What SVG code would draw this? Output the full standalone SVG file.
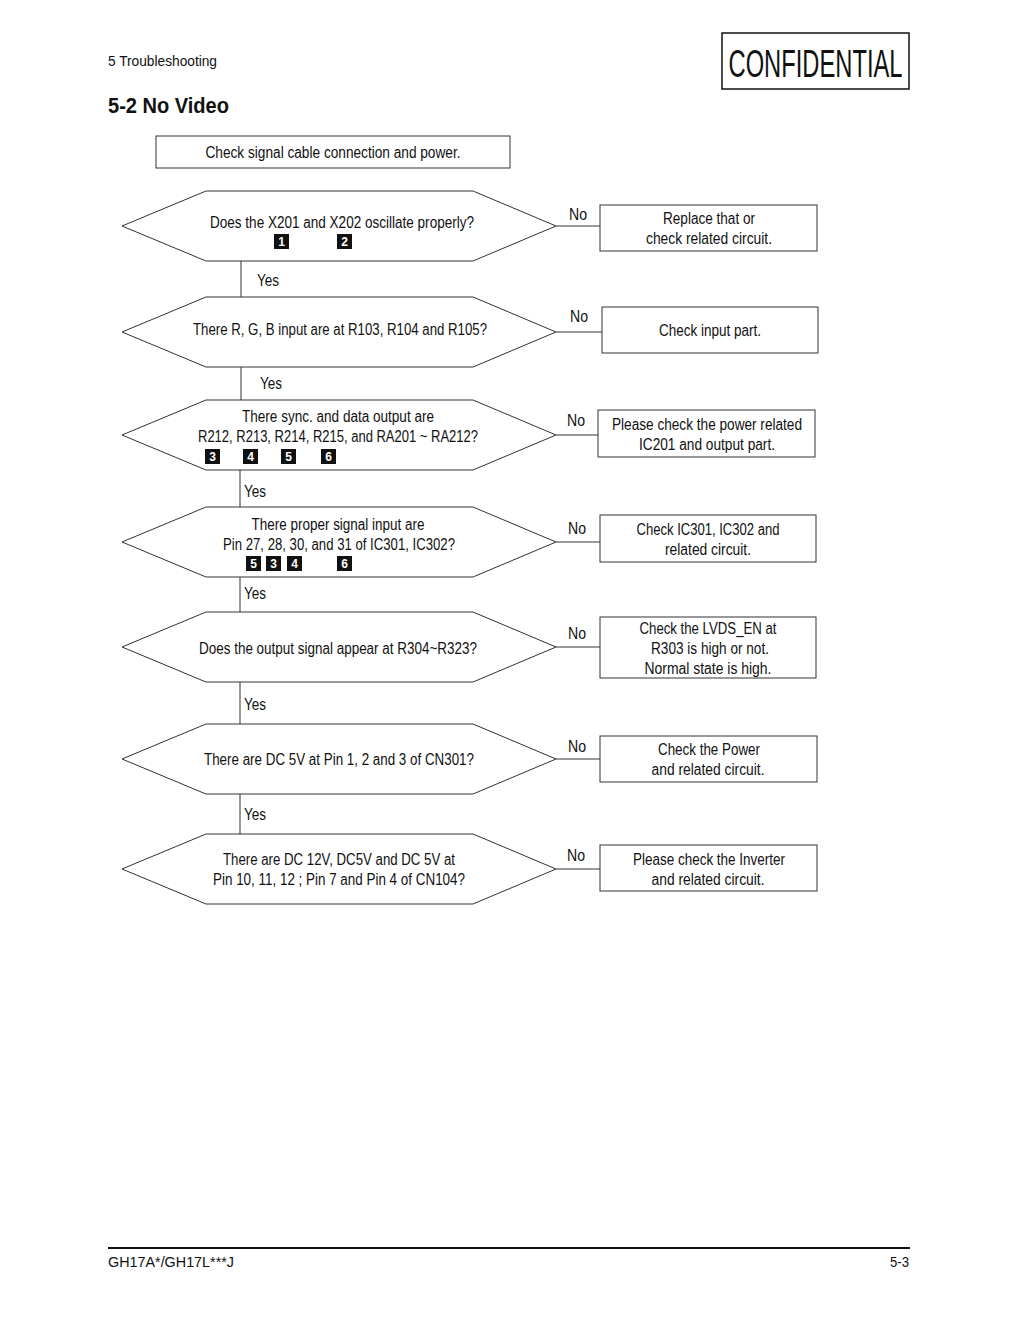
<svg xmlns="http://www.w3.org/2000/svg" width="1020" height="1322" viewBox="0 0 1020 1322">
<style>
text{font-family:"Liberation Sans",Arial,sans-serif;fill:#111}
.t{font-size:16px;text-anchor:middle}
.l{font-size:16px}
.s{fill:#fff;stroke:#333;stroke-width:1}
.c{stroke:#333;stroke-width:1;fill:none}
.b{fill:#111}
.bt{font-size:12px;font-weight:bold;fill:#fff;text-anchor:middle}
</style>
<rect width="1020" height="1322" fill="#fff"/>
<text x="108" y="66" style="font-size:15px" textLength="109" lengthAdjust="spacingAndGlyphs">5 Troubleshooting</text>
<rect x="722" y="33" width="187" height="56" fill="none" stroke="#111" stroke-width="1.5"/>
<text x="815.5" y="77" style="font-size:39px;text-anchor:middle" textLength="174" lengthAdjust="spacingAndGlyphs">CONFIDENTIAL</text>
<text x="108" y="113" style="font-size:22px;font-weight:bold" textLength="121" lengthAdjust="spacingAndGlyphs">5-2 No Video</text>

<g id="connectors">
<line class="c" x1="241" y1="261" x2="241" y2="297"/>
<line class="c" x1="241" y1="367" x2="241" y2="400"/>
<line class="c" x1="240" y1="470" x2="240" y2="507"/>
<line class="c" x1="240" y1="577" x2="240" y2="612"/>
<line class="c" x1="240" y1="682" x2="240" y2="724"/>
<line class="c" x1="240" y1="794" x2="240" y2="834"/>
<line class="c" x1="556" y1="226" x2="600" y2="226"/>
<line class="c" x1="556" y1="332" x2="602" y2="332"/>
<line class="c" x1="556" y1="435" x2="598" y2="435"/>
<line class="c" x1="556" y1="542" x2="600" y2="542"/>
<line class="c" x1="556" y1="647" x2="600" y2="647"/>
<line class="c" x1="556" y1="759" x2="600" y2="759"/>
<line class="c" x1="556" y1="869" x2="600" y2="869"/>
<text class="l" x="257" y="286" textLength="22" lengthAdjust="spacingAndGlyphs">Yes</text>
<text class="l" x="260" y="389" textLength="22" lengthAdjust="spacingAndGlyphs">Yes</text>
<text class="l" x="244" y="497" textLength="22" lengthAdjust="spacingAndGlyphs">Yes</text>
<text class="l" x="244" y="599" textLength="22" lengthAdjust="spacingAndGlyphs">Yes</text>
<text class="l" x="244" y="710" textLength="22" lengthAdjust="spacingAndGlyphs">Yes</text>
<text class="l" x="244" y="820" textLength="22" lengthAdjust="spacingAndGlyphs">Yes</text>
<text class="l" x="569" y="220" textLength="18" lengthAdjust="spacingAndGlyphs">No</text>
<text class="l" x="570" y="322" textLength="18" lengthAdjust="spacingAndGlyphs">No</text>
<text class="l" x="567" y="426" textLength="18" lengthAdjust="spacingAndGlyphs">No</text>
<text class="l" x="568" y="534" textLength="18" lengthAdjust="spacingAndGlyphs">No</text>
<text class="l" x="568" y="639" textLength="18" lengthAdjust="spacingAndGlyphs">No</text>
<text class="l" x="568" y="752" textLength="18" lengthAdjust="spacingAndGlyphs">No</text>
<text class="l" x="567" y="861" textLength="18" lengthAdjust="spacingAndGlyphs">No</text>
</g>

<g id="start">
<rect class="s" x="156" y="136" width="354" height="32"/>
<text class="t" x="333" y="158" textLength="255" lengthAdjust="spacingAndGlyphs">Check signal cable connection and power.</text>
</g>

<g id="d1">
<polygon class="s" points="122,226 206,191 473,191 556,226 473,261 206,261"/>
<text class="t" x="342" y="228" textLength="264" lengthAdjust="spacingAndGlyphs">Does the X201 and X202 oscillate properly?</text>
<rect class="b" x="274" y="234" width="15" height="15"/><text class="bt" x="281.5" y="246">1</text>
<rect class="b" x="337" y="234" width="15" height="15"/><text class="bt" x="344.5" y="246">2</text>
</g>
<g id="d2">
<polygon class="s" points="122,332 206,297 473,297 556,332 473,367 206,367"/>
<text class="t" x="340" y="335" textLength="294" lengthAdjust="spacingAndGlyphs">There R, G, B input are at R103, R104 and R105?</text>
</g>
<g id="d3">
<polygon class="s" points="122,435 206,400 473,400 556,435 473,470 206,470"/>
<text class="t" x="338" y="422" textLength="192" lengthAdjust="spacingAndGlyphs">There sync. and data output are</text>
<text class="t" x="338" y="442" textLength="280" lengthAdjust="spacingAndGlyphs">R212, R213, R214, R215, and RA201 ~ RA212?</text>
<rect class="b" x="205" y="449" width="15" height="15"/><text class="bt" x="212.5" y="461">3</text>
<rect class="b" x="243" y="449" width="15" height="15"/><text class="bt" x="250.5" y="461">4</text>
<rect class="b" x="281" y="449" width="15" height="15"/><text class="bt" x="288.5" y="461">5</text>
<rect class="b" x="321" y="449" width="15" height="15"/><text class="bt" x="328.5" y="461">6</text>
</g>
<g id="d4">
<polygon class="s" points="122,542 206,507 473,507 556,542 473,577 206,577"/>
<text class="t" x="338" y="530" textLength="173" lengthAdjust="spacingAndGlyphs">There proper signal input are</text>
<text class="t" x="339" y="550" textLength="232" lengthAdjust="spacingAndGlyphs">Pin 27, 28, 30, and 31 of IC301, IC302?</text>
<rect class="b" x="246" y="556" width="15" height="15"/><text class="bt" x="253.5" y="568">5</text>
<rect class="b" x="266" y="556" width="15" height="15"/><text class="bt" x="273.5" y="568">3</text>
<rect class="b" x="287" y="556" width="15" height="15"/><text class="bt" x="294.5" y="568">4</text>
<rect class="b" x="337" y="556" width="15" height="15"/><text class="bt" x="344.5" y="568">6</text>
</g>
<g id="d5">
<polygon class="s" points="122,647 206,612 473,612 556,647 473,682 206,682"/>
<text class="t" x="338" y="654" textLength="278" lengthAdjust="spacingAndGlyphs">Does the output signal appear at R304~R323?</text>
</g>
<g id="d6">
<polygon class="s" points="122,759 206,724 473,724 556,759 473,794 206,794"/>
<text class="t" x="339" y="765" textLength="270" lengthAdjust="spacingAndGlyphs">There are DC 5V at Pin 1, 2 and 3 of CN301?</text>
</g>
<g id="d7">
<polygon class="s" points="122,869 206,834 473,834 556,869 473,904 206,904"/>
<text class="t" x="339" y="865" textLength="232" lengthAdjust="spacingAndGlyphs">There are DC 12V, DC5V and DC 5V at</text>
<text class="t" x="339" y="885" textLength="252" lengthAdjust="spacingAndGlyphs">Pin 10, 11, 12 ; Pin 7 and Pin 4 of CN104?</text>
</g>

<g id="b1">
<rect class="s" x="600" y="205" width="217" height="46"/>
<text class="t" x="709" y="224" textLength="92" lengthAdjust="spacingAndGlyphs">Replace that or</text>
<text class="t" x="709" y="244" textLength="126" lengthAdjust="spacingAndGlyphs">check related circuit.</text>
</g>
<g id="b2">
<rect class="s" x="602" y="307" width="216" height="46"/>
<text class="t" x="710" y="336" textLength="102" lengthAdjust="spacingAndGlyphs">Check input part.</text>
</g>
<g id="b3">
<rect class="s" x="598" y="410" width="217" height="47"/>
<text class="t" x="707" y="430" textLength="190" lengthAdjust="spacingAndGlyphs">Please check the power related</text>
<text class="t" x="707" y="450" textLength="136" lengthAdjust="spacingAndGlyphs">IC201 and output part.</text>
</g>
<g id="b4">
<rect class="s" x="600" y="515" width="216" height="47"/>
<text class="t" x="708" y="535" textLength="143" lengthAdjust="spacingAndGlyphs">Check IC301, IC302 and</text>
<text class="t" x="708" y="555" textLength="86" lengthAdjust="spacingAndGlyphs">related circuit.</text>
</g>
<g id="b5">
<rect class="s" x="600" y="617" width="216" height="61"/>
<text class="t" x="708" y="634" textLength="137" lengthAdjust="spacingAndGlyphs">Check the LVDS_EN at</text>
<text class="t" x="710" y="654" textLength="118" lengthAdjust="spacingAndGlyphs">R303 is high or not.</text>
<text class="t" x="708" y="674" textLength="127" lengthAdjust="spacingAndGlyphs">Normal state is high.</text>
</g>
<g id="b6">
<rect class="s" x="600" y="736" width="217" height="46"/>
<text class="t" x="709" y="755" textLength="102" lengthAdjust="spacingAndGlyphs">Check the Power</text>
<text class="t" x="708" y="775" textLength="113" lengthAdjust="spacingAndGlyphs">and related circuit.</text>
</g>
<g id="b7">
<rect class="s" x="600" y="845" width="217" height="46"/>
<text class="t" x="709" y="865" textLength="152" lengthAdjust="spacingAndGlyphs">Please check the Inverter</text>
<text class="t" x="708" y="885" textLength="113" lengthAdjust="spacingAndGlyphs">and related circuit.</text>
</g>

<line x1="108" y1="1248" x2="910" y2="1248" stroke="#111" stroke-width="2"/>
<text x="108" y="1267" style="font-size:15px" textLength="126" lengthAdjust="spacingAndGlyphs">GH17A*/GH17L***J</text>
<text x="909" y="1267" style="font-size:15px;text-anchor:end" textLength="19" lengthAdjust="spacingAndGlyphs">5-3</text>
</svg>
